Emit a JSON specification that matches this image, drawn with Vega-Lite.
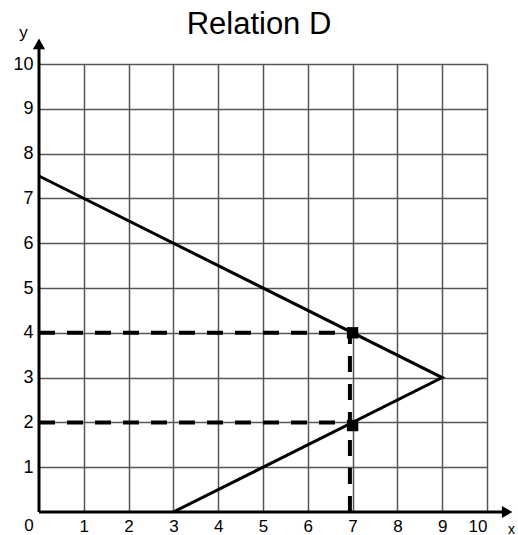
{
  "$schema": "https://vega.github.io/schema/vega-lite/v6.json",
  "width": 448,
  "height": 448,
  "autosize": {"type": "none"},
  "padding": {"left": 39, "top": 64, "right": 31, "bottom": 23},
  "background": "white",
  "title": {"text": "Relation D", "fontSize": 31, "font": "Liberation Sans", "fontWeight": "normal", "color": "black", "anchor": "middle", "frame": "group", "baseline": "alphabetic", "offset": -42, "dx": -4},
  "config": {"view": {"stroke": null}, "font": "Liberation Sans"},
  "datasets": {
    "grid": [{"x": 0, "y": 0}],
    "solid": [
      {"x": 0, "y": 7.5, "order": 1},
      {"x": 9, "y": 3, "order": 2},
      {"x": 3, "y": 0, "order": 3}
    ],
    "dashed": [
      {"x": 0, "y": 4, "x2": 7, "y2": 4},
      {"x": 0, "y": 2, "x2": 7, "y2": 2},
      {"x": 6.94, "y": 0, "x2": 6.94, "y2": 4}
    ],
    "squares": [
      {"x": 7, "y": 4},
      {"x": 7, "y": 1.93}
    ],
    "axislines": [
      {"x": 0, "y": 0, "x2": 10.4, "y2": 0},
      {"x": 0, "y": 0, "x2": 0, "y2": 10.4}
    ],
    "arrows": [
      {"x": 10.45, "y": 0, "shape": "triangle-right"},
      {"x": 0, "y": 10.45, "shape": "triangle-up"}
    ],
    "zero": [{"x": 0, "y": 0, "label": "0"}]
  },
  "layer": [
    {
      "data": {"name": "grid"},
      "mark": {"type": "point", "opacity": 0},
      "encoding": {
        "x": {"field": "x", "type": "quantitative", "scale": {"domain": [0, 10], "nice": false, "zero": false},
          "axis": {"values": [1,2,3,4,5,6,7,8,9,10], "grid": true, "gridColor": "#555555", "gridWidth": 1.5, "gridOpacity": 1, "domain": false, "ticks": false, "labelPadding": 6, "labelFontSize": 17, "labelColor": "black", "labelFont": "Liberation Sans",
            "title": "x", "titleX": 472, "titleY": 17, "titleAlign": "center", "titleBaseline": "middle", "titleFontSize": 14, "titleFontWeight": "normal", "titleColor": "black", "titleFont": "Liberation Sans"}},
        "y": {"field": "y", "type": "quantitative", "scale": {"domain": [0, 10], "nice": false, "zero": false},
          "axis": {"values": [1,2,3,4,5,6,7,8,9,10], "grid": true, "gridColor": "#555555", "gridWidth": 1.5, "gridOpacity": 1, "domain": false, "ticks": false, "labelPadding": 6, "labelFontSize": 18, "labelColor": "black", "labelFont": "Liberation Sans",
            "title": "y", "titleX": -16, "titleY": -32, "titleAngle": 0, "titleAlign": "center", "titleBaseline": "middle", "titleFontSize": 17, "titleFontWeight": "normal", "titleColor": "black", "titleFont": "Liberation Sans"}}
      }
    },
    {
      "data": {"name": "axislines"},
      "mark": {"type": "rule", "color": "black", "strokeWidth": 3},
      "encoding": {
        "x": {"field": "x", "type": "quantitative"},
        "y": {"field": "y", "type": "quantitative"},
        "x2": {"field": "x2"},
        "y2": {"field": "y2"}
      }
    },
    {
      "data": {"name": "arrows"},
      "mark": {"type": "point", "filled": true, "color": "black", "opacity": 1, "size": 150},
      "encoding": {
        "x": {"field": "x", "type": "quantitative"},
        "y": {"field": "y", "type": "quantitative"},
        "shape": {"field": "shape", "type": "nominal", "scale": null, "legend": null}
      }
    },
    {
      "data": {"name": "dashed"},
      "mark": {"type": "rule", "color": "black", "strokeWidth": 4, "strokeDash": [16, 12]},
      "encoding": {
        "x": {"field": "x", "type": "quantitative"},
        "y": {"field": "y", "type": "quantitative"},
        "x2": {"field": "x2"},
        "y2": {"field": "y2"}
      }
    },
    {
      "data": {"name": "solid"},
      "mark": {"type": "line", "color": "black", "strokeWidth": 3},
      "encoding": {
        "x": {"field": "x", "type": "quantitative"},
        "y": {"field": "y", "type": "quantitative"},
        "order": {"field": "order"}
      }
    },
    {
      "data": {"name": "squares"},
      "mark": {"type": "point", "shape": "square", "filled": true, "color": "black", "opacity": 1, "size": 130},
      "encoding": {
        "x": {"field": "x", "type": "quantitative"},
        "y": {"field": "y", "type": "quantitative"}
      }
    },
    {
      "data": {"name": "zero"},
      "mark": {"type": "text", "fontSize": 17, "font": "Liberation Sans", "color": "black", "dx": -10, "dy": 14, "align": "center", "baseline": "middle"},
      "encoding": {
        "x": {"field": "x", "type": "quantitative"},
        "y": {"field": "y", "type": "quantitative"},
        "text": {"field": "label"}
      }
    }
  ]
}
